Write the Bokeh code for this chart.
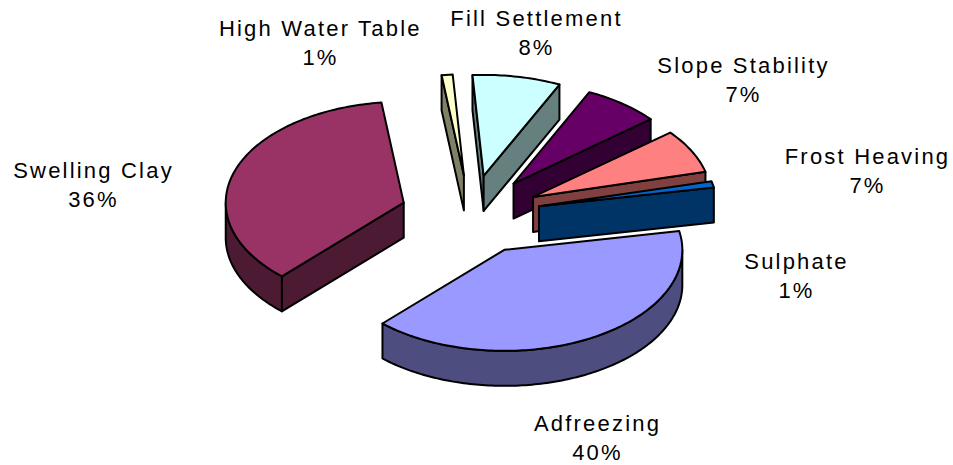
import math
from bokeh.plotting import figure
from bokeh.models import Range1d
from bokeh.core.properties import value
from bokeh.embed import file_html
from bokeh.resources import INLINE

# Data, clockwise from the first slice
categories = ["Fill Settlement", "Slope Stability", "Frost Heaving", "Sulphate",
              "Adfreezing", "Swelling Clay", "High Water Table"]
percent = [8, 7, 7, 1, 40, 36, 1]
top_colors = ["#ccffff", "#660066", "#ff8080", "#0066cc", "#9999ff", "#993366", "#ffffcc"]
side_colors = ["#668080", "#330033", "#804040", "#003366", "#4d4d80", "#4d1a33", "#808066"]
label_centers = [(536, 18), (743, 65), (867, 156), (796, 261), (597, 423), (93, 170), (320, 28)]

# Projection of the pie
START = -3.6
CX, CY, A, B, DEPTH, EXPLODE = 470, 214.5, 178, 101, 35, 0.39
LINE_GAP = 29
SPACING = 2.2

p = figure(width=953, height=465, x_range=Range1d(0, 953), y_range=Range1d(465, 0),
           output_backend="svg", toolbar_location=None, min_border=0,
           outline_line_color=None, background_fill_color="white", border_fill_color="white")
p.axis.visible = False
p.grid.visible = False
p.styles = {"letter-spacing": f"{SPACING}px"}


def rim(ax, ay, theta):
    t = math.radians(theta)
    return ax + A * math.sin(t), ay - B * math.cos(t)


def face(xs, ys, fill):
    p.patch(xs, ys, fill_color=fill, line_color="black", line_width=2, line_join="round")


slices = []
angle = START
for name, pct, top, side in zip(categories, percent, top_colors, side_colors):
    span = pct * 3.6
    slices.append((name, pct, angle, angle + span, top, side))
    angle += span

for name, pct, a0, a1, top, side in slices:
    mid = math.radians((a0 + a1) / 2)
    ax = CX + EXPLODE * 180 * math.sin(mid)
    ay = CY - EXPLODE * 102 * math.cos(mid)
    n = max(3, int(a1 - a0))
    arc = [a0 + (a1 - a0) * i / n for i in range(n + 1)]

    # radial cut faces that look towards the viewer
    for th, visible in ((a0, math.sin(math.radians(a0)) < 0), (a1, math.sin(math.radians(a1)) > 0)):
        if visible:
            rx, ry = rim(ax, ay, th)
            face([ax, rx, rx, ax], [ay, ry, ry + DEPTH, ay + DEPTH], side)

    # outer wall
    w0, w1 = max(a0, 90), min(a1, 270)
    if w0 < w1:
        m = max(3, int(w1 - w0))
        wall = [w0 + (w1 - w0) * i / m for i in range(m + 1)]
        pts = [rim(ax, ay, t) for t in wall]
        face([q[0] for q in pts] + [q[0] for q in reversed(pts)],
             [q[1] for q in pts] + [q[1] + DEPTH for q in reversed(pts)], side)

    # top
    pts = [rim(ax, ay, t) for t in arc]
    face([ax] + [q[0] for q in pts], [ay] + [q[1] for q in pts], top)

# labels
for (name, pct), (lx, ly) in zip(zip(categories, percent), label_centers):
    pct_text = f"{pct}%"
    p.text([lx - len(name) * SPACING / 2, lx - len(pct_text) * SPACING / 2],
           [ly, ly + LINE_GAP], text=[name, pct_text],
           text_align="center", text_baseline="middle",
           text_font=value("Liberation Sans"), text_font_size="22px", text_color="black")

open("out.html", "w").write(file_html(p, INLINE))
